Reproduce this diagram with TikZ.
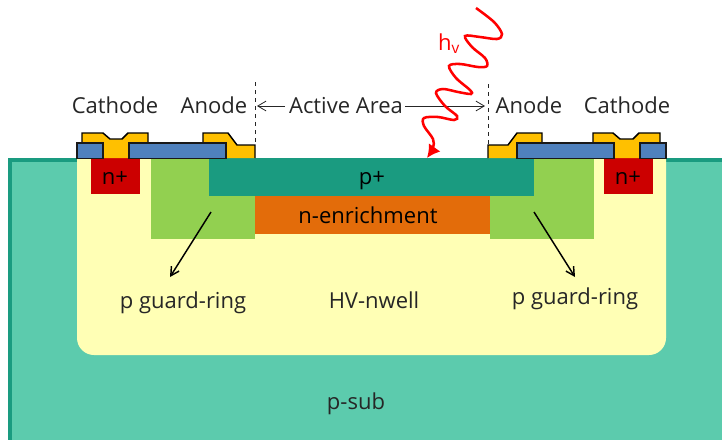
\documentclass[tikz,border=0pt]{standalone}
\usepackage{fontspec}
\setmainfont{Open Sans}
\usetikzlibrary{arrows.meta}
\definecolor{subgreen}{HTML}{5CCBAD}
\definecolor{darkgreen}{HTML}{1A9B80}
\definecolor{wellyellow}{HTML}{FFFFB5}
\definecolor{ringgreen}{HTML}{92D050}
\definecolor{enrorange}{HTML}{E36C0A}
\definecolor{plusred}{HTML}{CC0000}
\definecolor{metalgold}{HTML}{FFC000}
\definecolor{oxideblue}{HTML}{4F81BD}
\tikzset{
  lbl/.style={inner sep=0pt,anchor=base,font=\fontsize{16.5}{19}\selectfont,text=black!85},
  metal/.style={draw=black,fill=metalgold,line width=1.1pt,line join=miter},
  oxide/.style={draw=black!90,fill=oxideblue,line width=1.1pt},
  dim/.style={-{Straight Barb[length=2.2mm,width=2.6mm]},line width=0.6pt,black!85},
  guide/.style={dashed,line width=0.7pt,black!85},
  edge/.style={-{Straight Barb[length=2.2mm,width=2.4mm]},line width=1.1pt},
  photon/.style={red,line width=1.9pt,-{Latex[length=3.4mm,width=3.8mm]}}
}
\begin{document}
\begin{tikzpicture}[x=0.75pt,y=-0.75pt]
\useasboundingbox (0,0) rectangle (722,440);
% substrate and implants
\fill[darkgreen] (8,158) rectangle (722,440);
\fill[subgreen] (12,162) rectangle (722,440);
\fill[wellyellow] (77,158) [rounded corners=12.75pt] -- (77,355) -- (666,355) [sharp corners] -- (666,158) -- cycle;
\fill[plusred] (91,158) rectangle (140,194);
\fill[plusred] (604,158) rectangle (653,194);
\fill[ringgreen] (151,158) rectangle (255,239);
\fill[ringgreen] (490,158) rectangle (594,239);
\fill[enrorange] (255,196) rectangle (490,234);
\fill[darkgreen] (209,158) rectangle (534,196);
% contacts
\draw[metal] (82,158) -- (82,133) -- (103,133) -- (110,139) -- (122,139) -- (128,133) -- (148,133) -- (148,158);
\draw[metal] (203,158) -- (203,133) -- (228,133) -- (237,145) -- (255,145) -- (255,158);
\draw[metal] (488,158) -- (488,145) -- (508,145) -- (517,133) -- (542,133) -- (542,158);
\draw[metal] (593,158) -- (593,133) -- (613,133) -- (620,139) -- (633,139) -- (639,133) -- (660,133) -- (660,158);
\draw[oxide] (77,143) rectangle (103,158.5);
\draw[oxide] (129,143) rectangle (226,158.5);
\draw[oxide] (517,143) rectangle (614,158.5);
\draw[oxide] (640,143) rectangle (666,158.5);
% labels
\node[lbl] (cathL) at (115,113.5) {Cathode};
\node[lbl] (anodeL) at (214,113.5) {Anode};
\node[lbl] (active) at (346,113.5) {Active Area};
\node[lbl] (anodeR) at (529,113.5) {Anode};
\node[lbl] (cathR) at (627,113.5) {Cathode};
\node[lbl,text=black] (nplusL) at (115,184) {n+};
\node[lbl,text=black] (nplusR) at (628,184) {n+};
\node[lbl,text=black] (pplus) at (372,184) {p+};
\node[lbl,text=black] (nenr) at (368,223) {n-enrichment};
\node[lbl] (ringL) at (183,308) {p guard-ring};
\node[lbl] (well) at (374,308) {HV-nwell};
\node[lbl] (ringR) at (575,304) {p guard-ring};
\node[lbl] (psub) at (356,409) {p-sub};
\node[lbl,text=red] (hv) at (449,50) {h\textsubscript{v}};
% active area limits
\coordinate (limLt) at (255,82); \coordinate (limLb) at (255,145);
\coordinate (limRt) at (488,84); \coordinate (limRb) at (488,145);
\draw[guide] (limLt) -- (limLb);
\draw[guide] (limRt) -- (limRb);
\coordinate (limL) at (257,106); \coordinate (limR) at (485,106);
\coordinate (actL) at (285,106); \coordinate (actR) at (405,106);
\draw[dim] (actL) -- (limL);
\draw[dim] (actR) -- (limR);
% guard-ring arrows
\coordinate (ringLs) at (211,212); \coordinate (ringLe) at (170,277);
\coordinate (ringRs) at (534,212); \coordinate (ringRe) at (575,277);
\draw[edge] (ringLs) -- (ringLe);
\draw[edge] (ringRs) -- (ringRe);
% photon
\draw[photon] plot[smooth,tension=0.55] coordinates {(476,8) (494,22) (502,34) (497,39) (480,37) (465,36) (472,47) (485,58) (487,66) (478,67) (460,64) (449,66) (456,78) (470,90) (471,94) (458,92) (443,89) (436,93) (445,106) (457,116) (454,120) (438,117) (424,118) (424,126) (433,139) (433,148) (427,158)};
\end{tikzpicture}
\end{document}
